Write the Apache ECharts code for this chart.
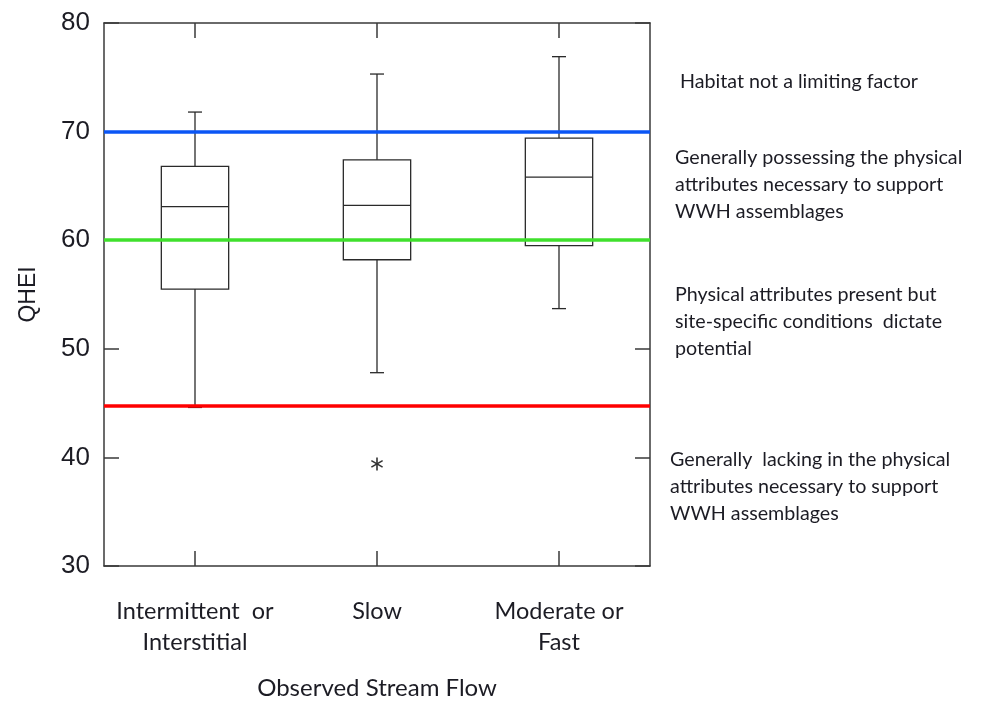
<!DOCTYPE html>
<html>
<head>
<meta charset="utf-8">
<script src="https://cdn.jsdelivr.net/npm/echarts@6/dist/echarts.min.js"></script>
<style>
  html, body { margin: 0; padding: 0; background: #fff; }
  #chart { width: 987px; height: 705px; }
</style>
</head>
<body>
<div id="chart"></div>
<script>
const categories = ['Intermittent  or\nInterstitial', 'Slow', 'Moderate or\nFast']
const whiskerLow = [44.6, 47.8, 53.7]
const q1 = [55.5, 58.2, 59.5]
const median = [63.1, 63.2, 65.8]
const q3 = [66.8, 67.4, 69.4]
const whiskerHigh = [71.8, 75.3, 76.9]
const outliers = [[1, 39.4]]
const thresholds = [
  { value: 70, color: '#0a55f5' },
  { value: 60, color: '#3fe02c' },
  { value: 44.8, color: '#ff0000' }
]
const notes = [
  { lines: ['Habitat not a limiting factor'], x: 680, y: 82 },
  { lines: ['Generally possessing the physical', 'attributes necessary to support', 'WWH assemblages'], x: 675, y: 158 },
  { lines: ['Physical attributes present but', 'site-specific conditions  dictate', 'potential'], x: 675, y: 295 },
  { lines: ['Generally  lacking in the physical', 'attributes necessary to support', 'WWH assemblages'], x: 670, y: 460 }
]

const ink = '#1c1c24'
const axisColor = '#3a3a3a'
const textFont = 'Lato, "Open Sans", sans-serif'

const boxData = categories.map((c, i) => [i, whiskerLow[i], q1[i], median[i], q3[i], whiskerHigh[i]])

const renderBox = (params, api) => {
  const i = api.value(0)
  const lo = api.coord([i, api.value(1)])
  const b1 = api.coord([i, api.value(2)])
  const med = api.coord([i, api.value(3)])
  const b3 = api.coord([i, api.value(4)])
  const hi = api.coord([i, api.value(5)])
  const cx = lo[0]
  const half = api.size([1, 0])[0] * 0.185
  const cap = 7
  const style = { stroke: '#2a2a2a', lineWidth: 1.3, fill: null }
  const seg = (x1, y1, x2, y2) => ({ type: 'line', shape: { x1, y1, x2, y2 }, style })
  return {
    type: 'group',
    children: [
      { type: 'rect', shape: { x: cx - half, y: b3[1], width: half * 2, height: b1[1] - b3[1] }, style },
      seg(cx - half, med[1], cx + half, med[1]),
      seg(cx, b3[1], cx, hi[1]),
      seg(cx, b1[1], cx, lo[1]),
      seg(cx - cap, hi[1], cx + cap, hi[1]),
      seg(cx - cap, lo[1], cx + cap, lo[1])
    ]
  }
}

// asterisk marker for the outlier
const renderStar = (params, api) => {
  const p = api.coord([api.value(0), api.value(1)])
  const r = 6.5
  const style = { stroke: '#333', lineWidth: 1.6 }
  const dx = r * Math.cos(Math.PI / 6)
  const dy = r * Math.sin(Math.PI / 6)
  return {
    type: 'group',
    children: [
      { type: 'line', shape: { x1: p[0], y1: p[1] - r, x2: p[0], y2: p[1] + r }, style },
      { type: 'line', shape: { x1: p[0] - dx, y1: p[1] - dy, x2: p[0] + dx, y2: p[1] + dy }, style },
      { type: 'line', shape: { x1: p[0] - dx, y1: p[1] + dy, x2: p[0] + dx, y2: p[1] - dy }, style }
    ]
  }
}

const noteGraphics = []
notes.forEach((n) => {
  n.lines.forEach((t, k) => {
    noteGraphics.push({
      type: 'text',
      left: n.x,
      top: n.y + k * 27 - 10,
      style: { text: t, font: '19.7px ' + textFont, fill: ink }
    })
  })
})

const chart = echarts.init(document.getElementById('chart'))

const baseY = {
  type: 'value',
  min: 30,
  max: 80,
  interval: 10,
  splitLine: { show: false },
  axisLine: { show: true, lineStyle: { color: axisColor, width: 1.5 } },
  axisTick: { show: true, inside: true, length: 15, lineStyle: { color: axisColor, width: 1.5 } }
}
const baseX = {
  type: 'category',
  data: categories,
  axisLine: { show: true, lineStyle: { color: axisColor, width: 1.5 } },
  axisTick: { show: true, inside: true, length: 15, alignWithLabel: true, interval: 0, lineStyle: { color: axisColor, width: 1.5 } },
  splitLine: { show: false }
}

chart.setOption({
  animation: false,
  backgroundColor: '#fff',
  grid: { left: 104, right: 337, top: 23, bottom: 136 },
  xAxis: [
    {
      ...baseX,
      position: 'bottom',
      name: 'Observed Stream Flow',
      nameLocation: 'middle',
      nameGap: 110,
      nameTextStyle: { fontFamily: textFont, fontSize: 24, color: ink },
      axisLabel: { interval: 0, margin: 30, fontFamily: textFont, fontSize: 23.5, lineHeight: 31, color: ink }
    },
    { ...baseX, position: 'top', axisLabel: { show: false } }
  ],
  yAxis: [
    {
      ...baseY,
      position: 'left',
      name: 'QHEI',
      nameLocation: 'middle',
      nameRotate: 90,
      nameGap: 64,
      nameTextStyle: { fontFamily: 'Arial, "Liberation Sans", sans-serif', fontSize: 23, color: ink },
      axisLabel: { margin: 14, fontFamily: 'Arial, "Liberation Sans", sans-serif', fontSize: 26, color: ink }
    },
    { ...baseY, position: 'right', axisLabel: { show: false } }
  ],
  series: [
    {
      type: 'custom',
      name: 'box',
      renderItem: renderBox,
      encode: { x: 0, y: [1, 2, 3, 4, 5] },
      data: boxData,
      z: 2
    },
    {
      type: 'custom',
      name: 'outlier',
      renderItem: renderStar,
      encode: { x: 0, y: 1 },
      data: outliers,
      z: 2
    },
    {
      type: 'line',
      name: 'thresholds',
      data: [],
      z: 5,
      markLine: {
        silent: true,
        symbol: 'none',
        label: { show: false },
        data: thresholds.map((t) => ({ yAxis: t.value, lineStyle: { color: t.color, width: 3.5, type: 'solid' } }))
      }
    }
  ],
  graphic: noteGraphics
})
</script>
</body>
</html>
